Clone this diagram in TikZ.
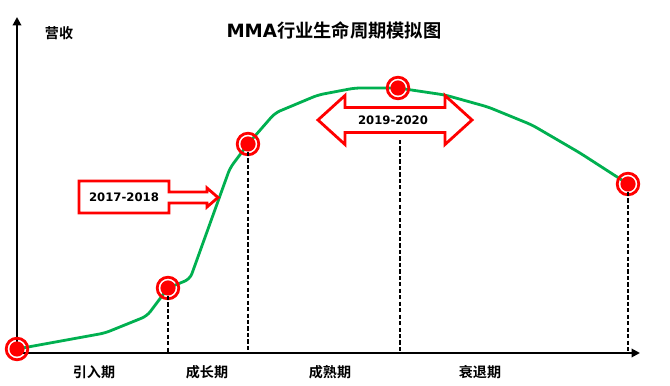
\documentclass[tikz,border=0pt]{standalone}
\usepackage{fontspec}
\setmainfont{DejaVu Sans}
\newfontfamily\cjk{Noto Sans CJK SC}[BoldFont={Noto Sans CJK SC Bold}]
\usetikzlibrary{arrows.meta}
\definecolor{curvegreen}{RGB}{0,176,80}

\begin{document}
\begin{tikzpicture}[
  phase/.style={font=\cjk\bfseries\fontsize{10}{12}\selectfont},
  dot/.style={circle,fill=red,inner sep=0pt,minimum size=0.38cm},
  vline/.style={line width=1.4pt,dash pattern=on 3pt off 1.6pt},
  years/.style={font=\bfseries\fontsize{8.3}{10}\selectfont},
  ]
\useasboundingbox (0,0) rectangle (16.75,9.65);
% axes
\coordinate (O) at (0.425,0.825);
\draw[line width=1.4pt,-{Triangle[length=6pt,width=6pt]}] (O) -- (0.425,9.225);
\draw[line width=1.4pt,-{Triangle[length=6pt,width=6pt]}] (O) -- (16.0,0.825);

% life cycle curve
\draw[curvegreen,line width=2pt,rounded corners=4pt] (0.425,0.925) -- (2.625,1.325)
  -- (3.675,1.75) -- (4.2,2.45) -- (4.75,2.675) -- (5.75,5.45) -- (6.2,6.05)
  -- (6.875,6.825) -- (7.95,7.275) -- (8.875,7.45) -- (9.95,7.45) -- (11.125,7.275)
  -- (12.2,6.975) -- (13.3,6.525) -- (14.5,5.825) -- (15.7,5.05);

\foreach \n/\x/\y in {p0/0.425/0.925,p1/4.2/2.45,p2/6.2/6.05,p3/9.95/7.45,p4/15.7/5.05}{
  \node[dot] (\n) at (\x,\y) {};
  \draw[red,line width=2pt] (\n) circle (0.27);
}

\foreach \n in {p1,p2,p4}
  \draw[vline] (\n.south) -- (\n |- O);
\coordinate (d3) at (10.0,6.15);
\draw[vline] (d3) -- (d3 |- O);

% year arrows
\draw[red,line width=2pt,fill=white] (1.975,5.125) -- (4.225,5.125) -- (4.225,4.85)
  -- (5.175,4.85) -- (5.175,4.95) -- (5.45,4.7125) -- (5.175,4.475) -- (5.175,4.575)
  -- (4.225,4.575) -- (4.225,4.325) -- (1.975,4.325) -- cycle;
\node[years] (y1718) at (3.1,4.725) {2017-2018};

\draw[red,line width=2pt,fill=white] (7.95,6.65) -- (8.625,7.2625) -- (8.625,6.9625)
  -- (11.125,6.9625) -- (11.125,7.2625) -- (11.8,6.65) -- (11.125,6.0375)
  -- (11.125,6.3375) -- (8.625,6.3375) -- (8.625,6.0375) -- cycle;
\node[years] (y1920) at (9.825,6.65) {2019-2020};

% labels
\node[font=\bfseries\fontsize{13}{15}\selectfont] (title) at (8.35,8.9) {MMA{\cjk 行业生命周期模拟图}};
\node[phase] (ylab) at (1.475,8.825) {营收};
\node[phase] (s1) at (2.35,0.35) {引入期};
\node[phase] (s2) at (5.175,0.35) {成长期};
\node[phase] (s3) at (8.25,0.35) {成熟期};
\node[phase] (s4) at (12.0,0.35) {衰退期};
\end{tikzpicture}
\end{document}
